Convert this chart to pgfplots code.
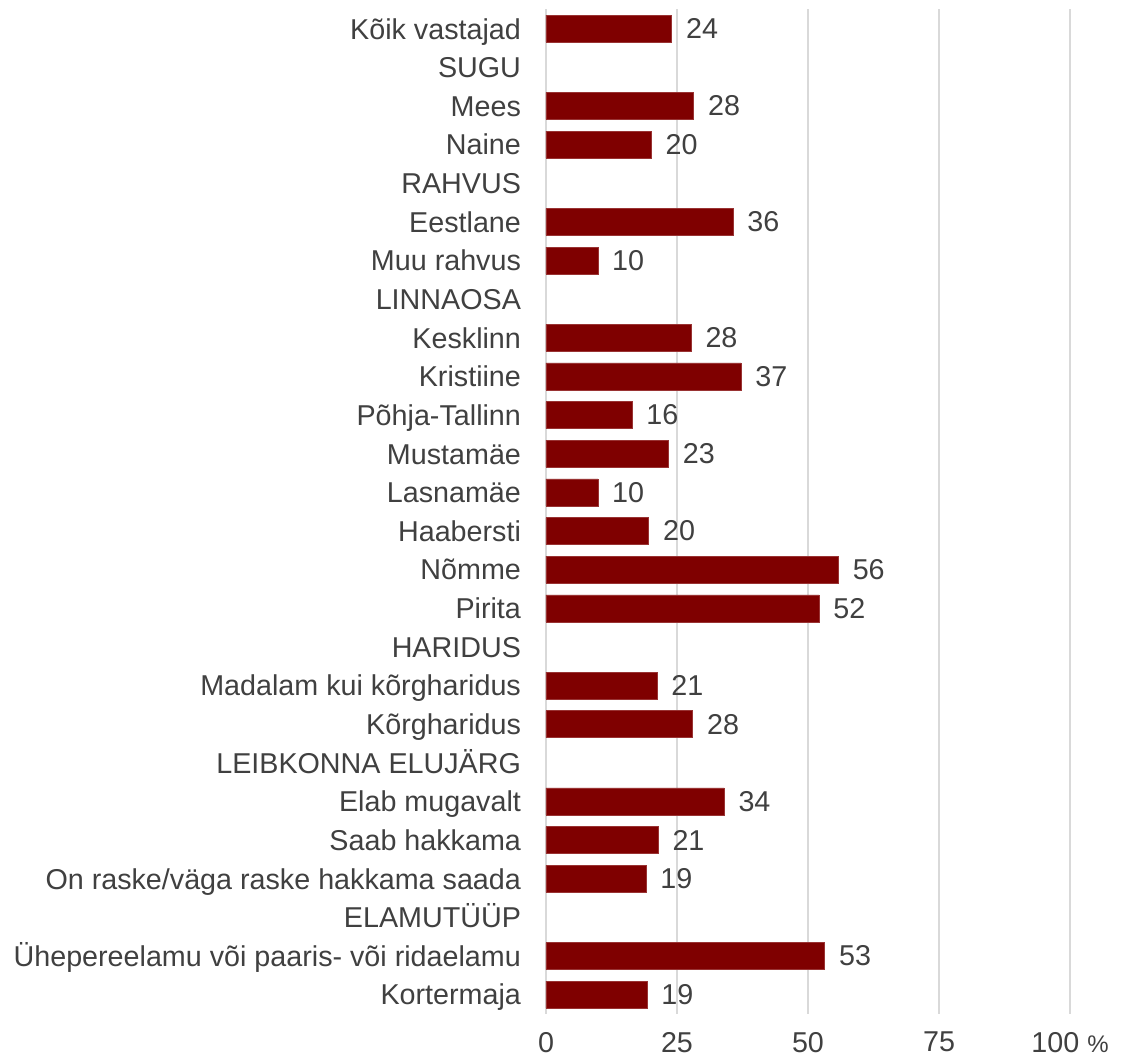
\documentclass[border=0pt]{standalone}
\usepackage{fontspec}
\setmainfont{Liberation Sans}
\usepackage{pgfplots}
\pgfplotsset{compat=1.18}
\definecolor{barred}{RGB}{127,0,0}
\definecolor{txt}{RGB}{64,64,64}
\definecolor{gridc}{RGB}{217,217,217}
\begin{document}
\begin{tikzpicture}
\useasboundingbox (-273pt,-22pt) rectangle (288pt,507pt);
\begin{axis}[
  at={(0,0)}, anchor=south west,
  scale only axis, width=262pt, height=502.3pt,
  xbar, bar width=13.5pt,
  xmin=0, xmax=100, ymin=-0.5, ymax=25.5, y dir=reverse,
  axis line style={draw=none},
  major tick length=0pt,
  tick style={draw=none},
  xtick={0,25,50,75,100},
  xticklabels={0,25,50,75,{100 {\fontsize{12}{12}\selectfont\%}}},
  ytick={0,...,25},
  yticklabels={Kõik vastajad,SUGU,Mees,Naine,RAHVUS,Eestlane,Muu rahvus,LINNAOSA,Kesklinn,Kristiine,Põhja-Tallinn,Mustamäe,Lasnamäe,Haabersti,Nõmme,Pirita,HARIDUS,Madalam kui kõrgharidus,Kõrgharidus,LEIBKONNA ELUJÄRG,Elab mugavalt,Saab hakkama,On raske/väga raske hakkama saada,ELAMUTÜÜP,Ühepereelamu või paaris- või ridaelamu,Kortermaja},
  xmajorgrids, ymajorgrids=false,
  grid style={gridc, line width=0.75pt},
  tick label style={font=\fontsize{14.35}{17}\selectfont, text=txt},
  xticklabel style={yshift=-5.5pt},
  yticklabel style={xshift=-9pt, text height=10.3pt, text depth=0pt},
  nodes near coords, point meta=explicit symbolic,
  nodes near coords style={font=\fontsize{14.35}{17}\selectfont, text=txt, anchor=west, xshift=3.7pt},
]
\addplot[fill=barred, draw=barred!80!white, line width=0.3pt] coordinates {
(24,0)[24]
(28.2,2)[28]
(20.1,3)[20]
(35.7,5)[36]
(9.9,6)[10]
(27.7,8)[28]
(37.2,9)[37]
(16.4,10)[16]
(23.4,11)[23]
(9.9,12)[10]
(19.6,13)[20]
(55.8,14)[56]
(52.1,15)[52]
(21.2,17)[21]
(28.0,18)[28]
(34.0,20)[34]
(21.4,21)[21]
(19.1,22)[19]
(53.2,24)[53]
(19.3,25)[19]
};
\end{axis}
\end{tikzpicture}
\end{document}
